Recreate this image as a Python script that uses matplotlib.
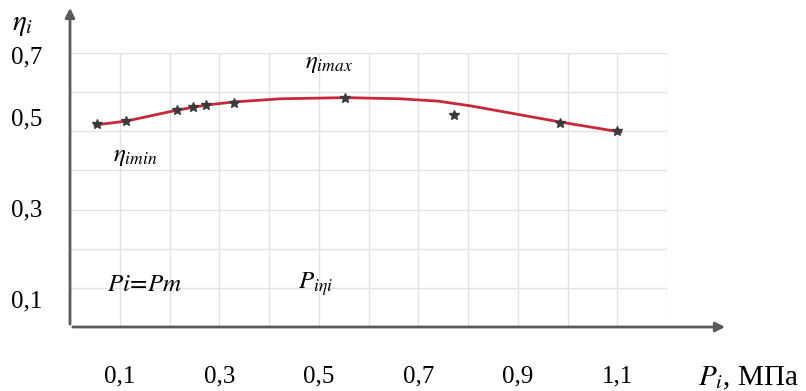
import numpy as np
import matplotlib
matplotlib.use('Agg')
import matplotlib.pyplot as plt

plt.rcParams['font.family'] = ['Liberation Serif', 'DejaVu Serif']
plt.rcParams['mathtext.fontset'] = 'stix'

# Points mesurés : pression indiquée P_i (МПа) et rendement indiqué eta_i
P_mes = [0.054, 0.113, 0.215, 0.247, 0.274, 0.330, 0.553, 0.771, 0.984, 1.099]
eta_mes = [0.519, 0.526, 0.554, 0.562, 0.567, 0.572, 0.585, 0.542, 0.521, 0.501]

# Courbe lissée
P_courbe = [0.050, 0.113, 0.215, 0.274, 0.330, 0.423, 0.553, 0.664, 0.740, 0.805, 0.984, 1.107]
eta_courbe = [0.516, 0.526, 0.554, 0.567, 0.575, 0.583, 0.586, 0.583, 0.577, 0.565, 0.524, 0.498]

x_ticks = [0.1, 0.3, 0.5, 0.7, 0.9, 1.1]
x_labels = ['0,1', '0,3', '0,5', '0,7', '0,9', '1,1']
y_labels = ['0,1', '0,3', '0,5', '0,7']
y_label_pos = [0.072, 0.304, 0.537, 0.695]  # placement des étiquettes comme sur l'original

fig = plt.figure(figsize=(8.06, 3.91), dpi=100)
ax = fig.add_axes([70 / 806, 64 / 391, 597 / 806, 274 / 391])
ax.set_xlim(0, 1.2)
ax.set_ylim(0, 0.7)

# grille
for xg in np.arange(0.1, 1.21, 0.1):
    ax.axvline(xg, color='#e2e2e2', lw=1, zorder=0)
for yg in np.arange(0.1, 0.71, 0.1):
    ax.axhline(yg, color='#e2e2e2', lw=1, zorder=0)

ax.plot(P_courbe, eta_courbe, '-', color='#c8283c', lw=2, zorder=2)
ax.plot(P_mes, eta_mes, '*', color='#3a3a3a', ms=7, zorder=3)

for s in ax.spines.values():
    s.set_visible(False)

# axes avec flèches
ax.annotate('', xy=(1.102, 0), xytext=(0, 0), xycoords='axes fraction',
            arrowprops=dict(arrowstyle='-|>', color='#5a5a5a', lw=2, mutation_scale=14),
            annotation_clip=False)
ax.annotate('', xy=(0, 1.175), xytext=(0, 0), xycoords='axes fraction',
            arrowprops=dict(arrowstyle='-|>', color='#5a5a5a', lw=2, mutation_scale=14),
            annotation_clip=False)

ax.set_xticks(x_ticks)
ax.set_xticklabels(x_labels, fontsize=18)
ax.set_yticks(y_label_pos)
ax.set_yticklabels(y_labels, fontsize=18)
ax.tick_params(axis='x', length=0, pad=28)
ax.tick_params(axis='y', length=0, pad=20)

kw = dict(fontsize=18, clip_on=False)
ax.text(-0.117, 0.772, r'$\eta_i$', ha='left', va='center', fontsize=21, clip_on=False)
ax.text(0.473, 0.673, r'$\eta_{imax}$', ha='left', va='center', **kw)
ax.text(0.0865, 0.434, r'$\eta_{imin}$', ha='left', va='center', **kw)
ax.text(0.0744, 0.107, r'$Pi\!=\!Pm$', ha='left', va='center', **kw)
ax.text(0.459, 0.110, r'$P_{i\eta i}$', ha='left', va='center', **kw)
ax.text(1.262, -0.148, r'$P_{i}$, МПа', ha='left', va='baseline', fontsize=21, clip_on=False)

fig.savefig('out.png', dpi=100)
